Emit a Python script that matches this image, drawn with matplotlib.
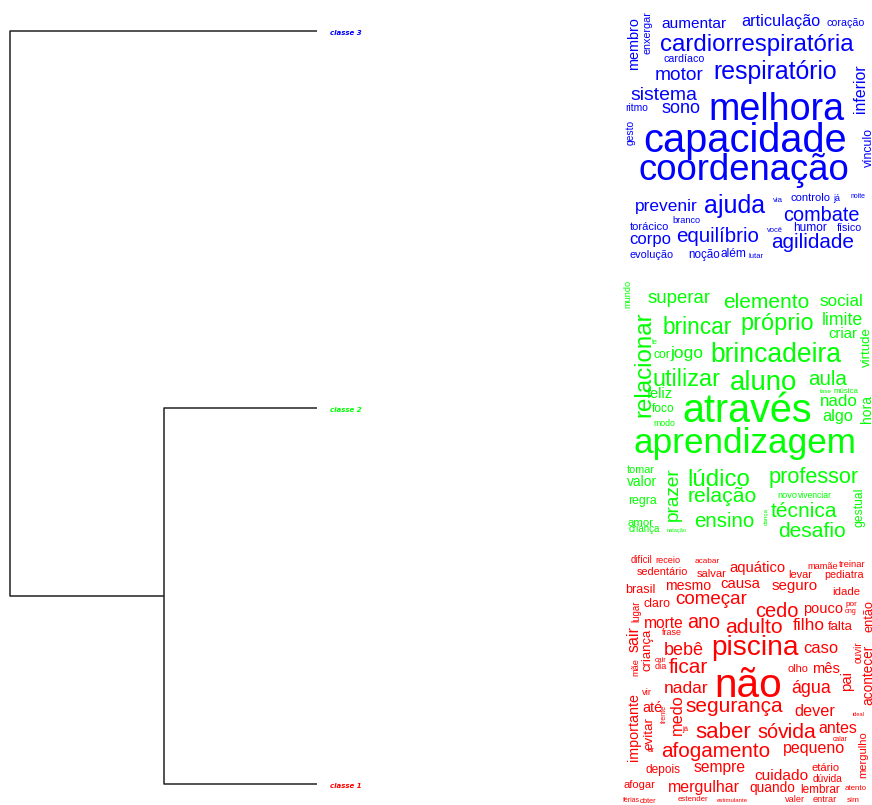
import matplotlib

matplotlib.use("Agg")
import matplotlib.pyplot as plt

W, H, DPI = 872, 805, 100
FONT = "Liberation Sans"
SHRINK = 0.93  # reference glyphs are a bit narrower than Liberation Sans

# dendrogram: leaves bottom -> top, merge heights (1+2), then root
leaf_labels = ["classe 1", "classe 2", "classe 3"]
leaf_colors = ["#FF0000", "#00FF00", "#0000FF"]
merge_heights = [0.5, 1.0]

# word clouds per class (words only, layout kept separately below)
words_c3 = [
    "membro", "enxergar", "aumentar", "articulação", "coração", "cardiorrespiratória",
    "cardíaco", "motor", "respiratório", "inferior", "sistema", "ritmo", "sono",
    "melhora", "gesto", "capacidade", "vínculo", "coordenação", "prevenir", "ajuda",
    "via", "controlo", "já", "noite", "combate", "torácico", "branco", "corpo",
    "equilíbrio", "você", "humor", "físico", "agilidade", "evolução", "noção",
    "além", "lutar",
]
words_c2 = [
    "mundo", "superar", "elemento", "social", "relacionar", "brincar", "próprio",
    "limite", "criar", "virtude", "te", "cor", "jogo", "brincadeira", "utilizar",
    "aluno", "aula", "feliz", "fase", "música", "nado", "hora", "foco", "modo",
    "através", "algo", "aprendizagem", "tomar", "valor", "prazer", "lúdico",
    "professor", "regra", "relação", "novo", "vivenciar", "gestual", "técnica",
    "dança", "amor", "criança", "natação", "ensino", "desafio",
]
words_c1 = [
    "difícil", "receio", "acabar", "mamãe", "treinar", "sedentário", "salvar",
    "aquático", "levar", "pediatra", "brasil", "mesmo", "causa", "seguro", "idade",
    "lugar", "sair", "claro", "começar", "cedo", "pouco", "por", "ong", "então",
    "morte", "ano", "adulto", "filho", "falta", "frase", "criança", "bebê",
    "piscina", "caso", "ouvir", "acontecer", "cair", "dia", "ficar", "olho", "mês",
    "mãe", "pai", "não", "vir", "nadar", "água", "importante", "evitar", "até",
    "frente", "medo", "já", "segurança", "dever", "ideal", "saber", "só", "vida",
    "antes", "calar", "mergulho", "afogamento", "ar", "pequeno", "depois", "sempre",
    "cuidado", "etário", "dúvida", "afogar", "mergulhar", "quando", "lembrar",
    "atento", "férias", "obter", "estender", "estimulante", "valer", "entrar", "sim",
]

# layout in pixels: (start, end, baseline, rotation)
# rot 0: start/end = x extent, baseline = y ; rot 90: start/end = y extent, baseline = x
layout_c3 = [
    (15, 72, 638, 90), (10, 56, 650, 90), (659, 729, 28, 0), (738, 823, 26, 0),
    (827, 865, 26, 0), (652, 861, 51, 0), (662, 706, 62, 0), (653, 706, 80, 0),
    (708, 843, 79, 0), (62, 115, 865, 90), (628, 700, 100, 0), (625, 648, 111, 0),
    (660, 702, 113, 0), (703, 850, 120, 0), (120, 145, 634, 90), (636, 855, 152, 0),
    (128, 167, 872, 90), (630, 858, 180, 0), (632, 700, 211, 0), (702, 768, 213, 0),
    (773, 783, 202, 0), (790, 830, 201, 0), (833, 840, 201, 0), (850, 865, 198, 0),
    (780, 862, 221, 0), (628, 670, 230, 0), (672, 700, 223, 0), (628, 673, 244, 0),
    (673, 763, 242, 0), (767, 783, 232, 0), (793, 827, 231, 0), (837, 862, 231, 0),
    (768, 858, 248, 0), (628, 675, 258, 0), (688, 720, 258, 0), (720, 746, 257, 0),
    (748, 763, 258, 0),
]
layout_c2 = [
    (280, 308, 630, 90), (645, 713, 303, 0), (720, 813, 308, 0), (818, 865, 306, 0),
    (307, 422, 650, 90), (660, 735, 334, 0), (738, 817, 330, 0), (820, 865, 325, 0),
    (828, 857, 338, 0), (327, 367, 870, 90), (652, 658, 344, 0), (653, 670, 358, 0),
    (670, 703, 358, 0), (705, 847, 362, 0), (650, 723, 386, 0), (727, 800, 390, 0),
    (808, 847, 385, 0), (647, 673, 398, 0), (820, 832, 393, 0), (833, 858, 393, 0),
    (820, 858, 406, 0), (395, 423, 871, 90), (652, 675, 412, 0), (653, 675, 426, 0),
    (677, 817, 422, 0), (822, 853, 421, 0), (625, 865, 453, 0), (627, 655, 473, 0),
    (627, 657, 486, 0), (465, 523, 678, 90), (685, 753, 486, 0), (765, 863, 483, 0),
    (628, 657, 504, 0), (685, 760, 502, 0), (777, 797, 498, 0), (798, 832, 498, 0),
    (488, 527, 862, 90), (768, 840, 517, 0), (508, 525, 768, 90), (627, 653, 526, 0),
    (628, 660, 532, 0), (667, 687, 532, 0), (692, 757, 527, 0), (775, 848, 537, 0),
]
layout_c1 = [
    (630, 652, 563, 0), (655, 680, 563, 0), (695, 720, 563, 0), (807, 838, 569, 0),
    (839, 866, 567, 0), (635, 690, 575, 0), (697, 727, 577, 0), (727, 787, 572, 0),
    (788, 812, 578, 0), (823, 865, 578, 0), (625, 655, 593, 0), (663, 713, 590, 0),
    (720, 760, 588, 0), (770, 820, 590, 0), (832, 860, 595, 0), (600, 622, 639, 90),
    (626, 652, 639, 90), (643, 670, 607, 0), (672, 750, 604, 0), (753, 800, 617, 0),
    (803, 843, 613, 0), (845, 857, 606, 0), (845, 857, 613, 0), (600, 632, 872, 90),
    (642, 685, 628, 0), (687, 720, 628, 0), (723, 785, 633, 0), (793, 825, 630, 0),
    (828, 853, 630, 0), (662, 682, 635, 0), (627, 673, 650, 90), (662, 705, 655, 0),
    (708, 802, 655, 0), (803, 838, 653, 0), (641, 663, 862, 90), (642, 707, 872, 90),
    (655, 667, 662, 0), (655, 667, 669, 0), (668, 708, 673, 0), (787, 808, 672, 0),
    (812, 840, 673, 0), (658, 676, 638, 90), (671, 691, 851, 90), (712, 785, 697, 0),
    (642, 652, 695, 0), (662, 710, 693, 0), (790, 833, 693, 0), (690, 763, 638, 90),
    (717, 750, 652, 90), (642, 662, 712, 0), (705, 723, 666, 90), (693, 737, 682, 90),
    (682, 688, 731, 0), (682, 787, 712, 0), (793, 837, 716, 0), (853, 865, 716, 0),
    (693, 753, 738, 0), (757, 778, 738, 0), (778, 817, 738, 0), (818, 857, 733, 0),
    (833, 848, 741, 0), (730, 780, 866, 90), (657, 775, 757, 0), (648, 655, 752, 0),
    (780, 847, 753, 0), (645, 680, 773, 0), (692, 748, 772, 0), (752, 810, 780, 0),
    (812, 840, 771, 0), (813, 843, 782, 0), (623, 655, 788, 0), (665, 743, 792, 0),
    (748, 797, 792, 0), (800, 840, 793, 0), (845, 867, 790, 0), (623, 640, 802, 0),
    (640, 657, 803, 0), (677, 708, 801, 0), (717, 748, 802, 0), (785, 805, 802, 0),
    (813, 837, 802, 0), (847, 860, 802, 0),
]


def place_words(ax, words, layout, color):
    placed = []
    for w, (a, b, base, rot) in zip(words, layout):
        mid = (a + b) / 2
        xy = (mid, base) if rot == 0 else (base, mid)
        t = ax.text(*xy, w, fontsize=10, rotation=rot, rotation_mode="anchor",
                    ha="center", va="baseline", color=color, family=FONT,
                    clip_on=False)
        placed.append((t, b - a, rot))
    return placed


fig = plt.figure(figsize=(W / DPI, H / DPI), dpi=DPI)

# dendrogram axes: x = merge height (reversed), y = leaf index
dax = fig.add_axes([10 / W, 21 / H, 307 / W, 753 / H])
dax.set_xlim(merge_heights[1], 0)
dax.set_ylim(0, 2)
dax.axis("off")
h_a, h_root = merge_heights
line_kw = dict(color="#222222", lw=1.1, clip_on=False, solid_capstyle="butt")
dax.plot([0, h_a, h_a, 0], [0, 0, 1, 1], **line_kw)
dax.plot([h_a, h_root, h_root, 0], [0.5, 0.5, 2, 2], **line_kw)
for i, (lab, col) in enumerate(zip(leaf_labels, leaf_colors)):
    dax.annotate(lab, (0, i), xytext=(9.5, -1.6), textcoords="offset points",
                 ha="left", va="center", color=col, fontsize=5,
                 fontstyle="italic", fontweight="bold", family="DejaVu Sans",
                 annotation_clip=False)

# word clouds in pixel coordinates
wax = fig.add_axes([0, 0, 1, 1])
wax.set_xlim(0, W)
wax.set_ylim(H, 0)
wax.axis("off")
wax.patch.set_alpha(0)

placed = []
placed += place_words(wax, words_c3, layout_c3, leaf_colors[2])
placed += place_words(wax, words_c2, layout_c2, leaf_colors[1])
placed += place_words(wax, words_c1, layout_c1, leaf_colors[0])

fig.canvas.draw()
renderer = fig.canvas.get_renderer()
for t, length, rot in placed:
    bb = t.get_window_extent(renderer)
    cur = bb.width if rot == 0 else bb.height
    k = SHRINK if length > 40 else 1.0
    t.set_fontsize(10 * k * length / cur)

fig.savefig("out.png", dpi=DPI)
